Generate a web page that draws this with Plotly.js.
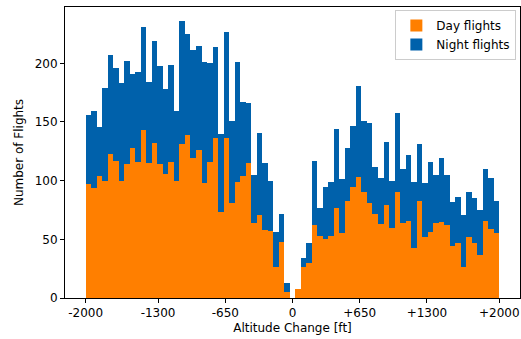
<!DOCTYPE html>
<html>
<head>
<meta charset="utf-8">
<script src="https://cdn.plot.ly/plotly-3.0.1.min.js"></script>
<style>html,body{margin:0;padding:0;background:#fff;}#chart{width:521px;height:339px;}</style>
</head>
<body>
<div id="chart"></div>
<script>
// Histogram bins: 75 equal bins from -2000 to +2000 ft
const binStart = -2000;
const binEnd = 2000;
const binCount = 75;

// Day flights per bin (bottom of stack)
const dayFlights = [
  97, 94, 104, 100, 123, 117, 100, 114, 128, 116, 143, 115, 132, 114, 106,
  116, 100, 131, 139, 119, 126, 98, 116, 136, 73, 136, 81, 99, 104, 115,
  64, 71, 58, 57, 26, 48, 5, 0, 8, 26, 30, 62, 53, 50, 53,
  77, 55, 83, 95, 103, 90, 81, 72, 63, 79, 60, 90, 64, 66, 43,
  83, 52, 56, 64, 65, 62, 44, 47, 26, 52, 47, 37, 66, 59, 55
];

// Night flights per bin (stacked on top)
const nightFlights = [
  59, 65, 42, 79, 84, 79, 83, 88, 63, 77, 88, 69, 87, 84, 72,
  83, 59, 105, 86, 92, 89, 103, 84, 78, 67, 91, 70, 102, 63, 51,
  41, 70, 57, 43, 30, 24, 8, 0, 0, 8, 17, 55, 24, 45, 46,
  67, 46, 45, 52, 78, 61, 68, 40, 39, 54, 40, 68, 46, 56, 56,
  48, 46, 60, 41, 54, 43, 38, 39, 45, 38, 38, 38, 44, 43, 28
];

const tickVals = [-2000, -1300, -650, 0, 650, 1300, 2000];
const tickLabels = ["-2000", "-1300", "-650", "0", "+650", "+1300", "+2000"];
const yTicks = [0, 50, 100, 150, 200];

const binWidth = (binEnd - binStart) / binCount;
const centers = dayFlights.map((_, i) => binStart + (i + 0.5) * binWidth);

const font = {family: "DejaVu Sans, sans-serif", size: 12, color: "#000"};

const traces = [
  {type: "bar", name: "Day flights", x: centers, y: dayFlights, width: binWidth,
   marker: {color: "#ff7f00", line: {width: 0}}},
  {type: "bar", name: "Night flights", x: centers, y: nightFlights, width: binWidth,
   marker: {color: "#0061ab", line: {width: 0}}}
];

const layout = {
  width: 521, height: 339,
  margin: {l: 65, r: 1, t: 7, b: 41},
  paper_bgcolor: "#fff", plot_bgcolor: "#fff",
  barmode: "stack", bargap: 0,
  font: font,
  showlegend: true,
  legend: {x: 0.992, y: 0.99, xanchor: "right", yanchor: "top",
           bgcolor: "rgba(255,255,255,0.9)", bordercolor: "#cccccc", borderwidth: 1,
           font: {family: "DejaVu Sans, sans-serif", size: 12, color: "#000"},
           traceorder: "normal"},
  xaxis: {range: [-2200, 2200], tickmode: "array", tickvals: tickVals, ticktext: tickLabels,
          showgrid: false, zeroline: false, showline: true, linecolor: "#000", linewidth: 1,
          mirror: true, ticks: "outside", ticklen: 4, tickcolor: "#000",
          title: {text: "Altitude Change [ft]", font: font, standoff: 4}},
  yaxis: {range: [0, 248], tickmode: "array", tickvals: yTicks,
          showgrid: false, zeroline: false, showline: true, linecolor: "#000", linewidth: 1,
          mirror: true, ticks: "outside", ticklen: 4, tickcolor: "#000",
          title: {text: "Number of Flights", font: font, standoff: 8}}
};

Plotly.newPlot("chart", traces, layout, {staticPlot: true, displayModeBar: false});
</script>
</body>
</html>
